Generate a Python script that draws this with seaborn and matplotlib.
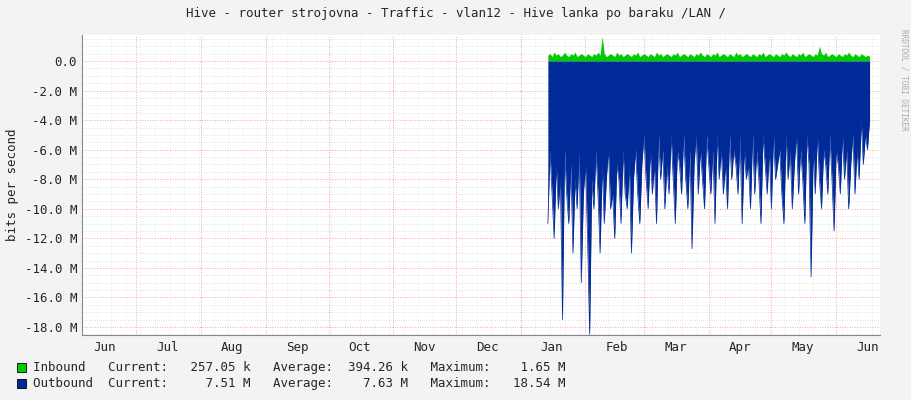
import matplotlib
matplotlib.use("Agg")
import matplotlib.pyplot as plt
import matplotlib.dates as mdates
import seaborn as sns
import pandas as pd
import numpy as np

start_date = "2023-01-14"
outbound = [-11,-6,-9,-12,-7,-10,-8,-17.5,-6,-9,-11,-7,-13,-8,-10,-6,-15,-9,-7,-12,
            -18.5,-8,-10,-6,-9,-13,-7,-11,-8,-6,-10,-9,-12,-7,-8,-11,-6,-9,-10,-7,
            -13,-8,-6,-9,-11,-7,-5,-8,-10,-6,-9,-7,-11,-5,-8,-6,-10,-7,-9,-5,
            -8,-11,-6,-7,-9,-5,-8,-10,-6,-12.7,-7,-5,-9,-6,-8,-10,-5,-7,-9,-6,
            -11,-5,-8,-6,-9,-7,-10,-5,-8,-6,-7,-9,-5,-11,-6,-8,-7,-10,-5,-9,
            -6,-8,-11,-5,-7,-9,-6,-10,-5,-8,-7,-6,-9,-11,-5,-8,-6,-10,-7,-5,
            -9,-6,-8,-11,-5,-7,-14.6,-6,-9,-5,-8,-10,-6,-7,-9,-5,-8,-11.5,-6,-7,
            -9,-5,-8,-6,-10,-7,-5,-9,-6,-8,-4,-7,-5,-6,-4]
inbound = [0.4,0.5,0.3,0.6,0.4,0.5,0.3,0.4,0.6,0.4,0.3,0.5,0.4,0.6,0.3,0.4,0.5,0.4,0.3,0.5,
           0.4,0.3,0.5,0.4,0.6,0.4,1.65,0.5,0.3,0.4,0.5,0.4,0.3,0.6,0.4,0.5,0.3,0.4,0.5,0.4,
           0.3,0.5,0.4,0.6,0.3,0.4,0.5,0.4,0.3,0.5,0.4,0.3,0.6,0.4,0.5,0.3,0.4,0.5,0.4,0.3,
           0.5,0.4,0.6,0.3,0.4,0.5,0.4,0.3,0.5,0.4,0.3,0.5,0.4,0.6,0.4,0.3,0.5,0.4,0.3,0.5,
           0.4,0.6,0.3,0.4,0.5,0.4,0.3,0.5,0.4,0.3,0.6,0.4,0.5,0.3,0.4,0.5,0.4,0.3,0.5,0.4,
           0.3,0.5,0.4,0.6,0.3,0.4,0.5,0.4,0.3,0.5,0.4,0.3,0.5,0.4,0.6,0.4,0.3,0.5,0.4,0.3,
           0.5,0.4,0.6,0.3,0.4,0.5,0.4,0.3,0.5,0.4,1.0,0.5,0.4,0.6,0.3,0.4,0.5,0.4,0.3,0.5,
           0.4,0.3,0.5,0.4,0.6,0.4,0.3,0.5,0.4,0.3,0.5,0.4,0.3,0.4,0.3]
yticks = [0, -2, -4, -6, -8, -10, -12, -14, -16, -18]
ytick_labels = ["0.0"] + [f"{v:.1f} M" for v in yticks[1:]]
legend_rows = [
    ("Inbound ", "#00CC00", "Current:   257.05 k   Average:  394.26 k   Maximum:    1.65 M"),
    ("Outbound", "#002A97", "Current:     7.51 M   Average:    7.63 M   Maximum:   18.54 M"),
]

n = min(len(outbound), len(inbound))
df = pd.DataFrame({"date": pd.date_range(start_date, periods=n, freq="D"),
                   "out": outbound[:n], "inb": inbound[:n]})

sns.set_style("white")
plt.rcParams["font.family"] = ["DejaVu Sans Mono"]
fig = plt.figure(figsize=(9.11, 4.0), dpi=100, facecolor="#F3F3F3")
ax = fig.add_axes([82/911, 65/400, 798/911, 300/400])
ax.set_facecolor("white")

ax.fill_between(df["date"], 0, df["inb"], color="#00CC00", lw=0)
ax.fill_between(df["date"], 0, df["out"], color="#002A97", lw=0)
sns.lineplot(data=df, x="date", y="out", ax=ax, color="#002A97", lw=0.5)

ax.set_xlim(pd.Timestamp("2022-06-05"), pd.Timestamp("2023-06-22"))
ax.set_ylim(-18.54, 1.76)
ax.set_yticks(yticks)
ax.set_yticklabels(ytick_labels, fontsize=9)
ax.set_yticks(np.arange(-18.5, 1.76, 0.5), minor=True)
ax.xaxis.set_major_locator(mdates.MonthLocator())
ax.xaxis.set_major_formatter(plt.NullFormatter())
ax.xaxis.set_minor_locator(mdates.MonthLocator(bymonthday=16))
ax.xaxis.set_minor_formatter(mdates.DateFormatter("%b"))
ax.tick_params(axis="x", which="minor", length=0, labelsize=9, pad=4)
ax.tick_params(axis="x", which="major", length=0)
ax.tick_params(axis="y", which="both", length=0, labelsize=9)
ax.grid(True, which="major", axis="both", color="#FF8080", ls=(0, (1, 2)), lw=0.6)
ax.grid(True, which="minor", axis="y", color="#CCCCCC", ls=(0, (1, 2)), lw=0.5)
for d in pd.date_range("2022-06-05", "2023-06-22", freq="7D"):
    ax.axvline(d, color="#DDDDDD", ls=(0, (1, 2)), lw=0.5, zorder=0)
ax.set_axisbelow(True)
for s in ["top", "right"]:
    ax.spines[s].set_visible(False)
ax.spines["left"].set_color("#888888")
ax.spines["bottom"].set_color("#888888")
ax.set_xlabel("")
ax.set_ylabel("bits per second", fontsize=9)

fig.text(0.5, 0.965, "Hive - router strojovna - Traffic - vlan12 - Hive lanka po baraku /LAN /",
         ha="center", va="center", fontsize=9)
fig.text(0.992, 0.8, "RRDTOOL / TOBI OETIKER", rotation=270, ha="center", va="center",
         fontsize=5.5, color="#AAAAAA")
for i, (name, col, txt) in enumerate(legend_rows):
    y = 33 / 400 - i * 16 / 400
    fig.patches.append(plt.Rectangle((17/911, y - 0.012), 9/911, 9/400, transform=fig.transFigure,
                                     facecolor=col, edgecolor="black", lw=0.6))
    fig.text(33/911, y, f"{name}  {txt}", fontsize=9, va="center")

fig.savefig("out.png", dpi=100, facecolor=fig.get_facecolor())
